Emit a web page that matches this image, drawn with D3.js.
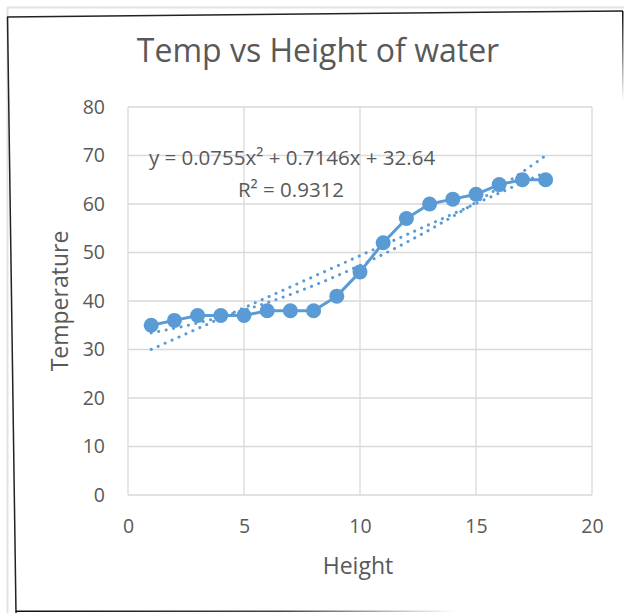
<!DOCTYPE html>
<html>
<head>
<meta charset="utf-8">
<script src="https://cdn.jsdelivr.net/npm/d3@7"></script>
<style>
  body { margin: 0; background: #fff; }
  svg { display: block; }
  text { font-family: "Open Sans", "Noto Sans", sans-serif; fill: #595959; }
</style>
</head>
<body>
<div class="chart"></div>
<script>
// data
const heights = [1, 2, 3, 4, 5, 6, 7, 8, 9, 10, 11, 12, 13, 14, 15, 16, 17, 18];
const temps = [35, 36, 37, 37, 37, 38, 38, 38, 41, 46, 52, 57, 60, 61, 62, 64, 65, 65];
const xTicks = [0, 5, 10, 15, 20];
const yTicks = [0, 10, 20, 30, 40, 50, 60, 70, 80];
const polyCoef = [32.64, 0.7146, 0.0755]; // from the equation label
const eqLabel = "y = 0.0755x² + 0.7146x + 32.64";
const r2Label = "R² = 0.9312";

const W = 624, H = 613;
const blue = "#5b9bd5";
const plot = { left: 128, right: 592, top: 107, bottom: 495 };

const svg = d3.select(".chart").append("svg")
  .attr("width", W).attr("height", H);

// frame (slightly skewed photo of a chart)
const defs = svg.append("defs");
const gb = defs.append("linearGradient").attr("id", "fadeB")
  .attr("x1", "0%").attr("x2", "100%").attr("y1", "0%").attr("y2", "0%");
gb.append("stop").attr("offset", "0%").attr("stop-color", "#111");
gb.append("stop").attr("offset", "60%").attr("stop-color", "#444");
gb.append("stop").attr("offset", "100%").attr("stop-color", "#fff");
const gr = defs.append("linearGradient").attr("id", "fadeR")
  .attr("x1", "0%").attr("x2", "0%").attr("y1", "0%").attr("y2", "100%");
gr.append("stop").attr("offset", "0%").attr("stop-color", "#111");
gr.append("stop").attr("offset", "100%").attr("stop-color", "#fff");

svg.append("line").attr("x1", 7).attr("y1", 7.5).attr("x2", W).attr("y2", 7.5)
  .attr("stroke", "#e3e3e3").attr("stroke-width", 2);
svg.append("line").attr("x1", 7.5).attr("y1", 7).attr("x2", 7.5).attr("y2", H)
  .attr("stroke", "#e3e3e3").attr("stroke-width", 2);
svg.append("line").attr("x1", 7).attr("y1", 17).attr("x2", 623).attr("y2", 11)
  .attr("stroke", "#222").attr("stroke-width", 1.5);
svg.append("line").attr("x1", 7.5).attr("y1", 17).attr("x2", 16).attr("y2", H)
  .attr("stroke", "#222").attr("stroke-width", 1.5);
svg.append("rect").attr("x", 16).attr("y", 610.5).attr("width", 440).attr("height", 1.5)
  .attr("fill", "url(#fadeB)");
svg.append("rect").attr("x", 622).attr("y", 11).attr("width", 1.5).attr("height", 90)
  .attr("fill", "url(#fadeR)");

const x = d3.scaleLinear().domain([0, 20]).range([plot.left, plot.right]);
const y = d3.scaleLinear().domain([0, 80]).range([plot.bottom, plot.top]);

// grid
const grid = svg.append("g").attr("stroke", "#d9d9d9").attr("stroke-width", 1.3);
grid.selectAll("line.h").data(yTicks).join("line").attr("class", "h")
  .attr("x1", plot.left).attr("x2", plot.right)
  .attr("y1", d => y(d)).attr("y2", d => y(d));
grid.selectAll("line.v").data(xTicks).join("line").attr("class", "v")
  .attr("y1", plot.top).attr("y2", plot.bottom)
  .attr("x1", d => x(d)).attr("x2", d => x(d));

// axes (labels only)
const xAxis = d3.axisBottom(x).tickValues(xTicks).tickSize(0).tickPadding(24);
const yAxis = d3.axisLeft(y).tickValues(yTicks).tickSize(0).tickPadding(23);
const gx = svg.append("g").attr("transform", `translate(0,${plot.bottom})`).call(xAxis);
const gy = svg.append("g").attr("transform", `translate(${plot.left},0)`).call(yAxis);
[gx, gy].forEach(g => {
  g.select(".domain").remove();
  g.selectAll("text").attr("font-size", 19.5).attr("fill", "#595959")
    .attr("font-family", "\"Open Sans\", sans-serif");
});

// trendlines
const pts = heights.map((h, i) => [h, temps[i]]);
const xm = d3.mean(heights), ym = d3.mean(temps);
const slope = d3.sum(pts, p => (p[0] - xm) * (p[1] - ym)) / d3.sum(heights, h => (h - xm) ** 2);
const icpt = ym - slope * xm;
const lineGen = d3.line().x(d => x(d[0])).y(d => y(d[1]));
const x0 = d3.min(heights), x1 = d3.max(heights);
const linPts = [[x0, icpt + slope * x0], [x1, icpt + slope * x1]];
const polyPts = d3.range(x0, x1 + 0.001, 0.25)
  .map(v => [v, polyCoef[0] + polyCoef[1] * v + polyCoef[2] * v * v]);
[linPts, polyPts].forEach(d => {
  svg.append("path").attr("d", lineGen(d))
    .attr("fill", "none").attr("stroke", blue).attr("stroke-width", 3)
    .attr("stroke-linecap", "round").attr("stroke-dasharray", "0.1 7.5");
});

// data series
svg.append("path").attr("d", lineGen(pts))
  .attr("fill", "none").attr("stroke", blue).attr("stroke-width", 3)
  .attr("stroke-linejoin", "round");
svg.selectAll("circle.dot").data(pts).join("circle").attr("class", "dot")
  .attr("cx", d => x(d[0])).attr("cy", d => y(d[1])).attr("r", 7.5)
  .attr("fill", blue);

// texts
svg.append("text").attr("x", 318).attr("y", 62).attr("text-anchor", "middle")
  .attr("font-size", 32).text("Temp vs Height of water");
svg.append("text").attr("x", 292).attr("y", 165).attr("text-anchor", "middle")
  .attr("font-size", 20.5).text(eqLabel);
svg.append("text").attr("x", 291).attr("y", 197).attr("text-anchor", "middle")
  .attr("font-size", 20.5).text(r2Label);
svg.append("text").attr("x", 358).attr("y", 574).attr("text-anchor", "middle")
  .attr("font-size", 23).text("Height");
svg.append("text").attr("transform", "translate(68,301) rotate(-90)")
  .attr("text-anchor", "middle").attr("font-size", 23).text("Temperature");
</script>
</body>
</html>
